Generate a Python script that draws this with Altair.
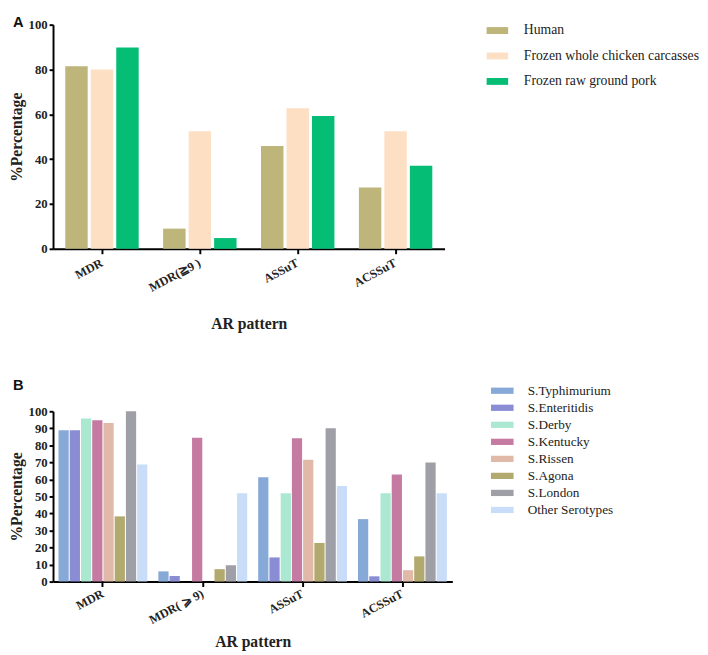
import altair as alt
import pandas as pd

# ---------------- Panel A data ----------------
patterns_a = ["MDR", "MDR(≧9 )", "ASSuT", "ACSSuT"]
sources = ["Human", "Frozen whole chicken carcasses", "Frozen raw ground pork"]
human = [81.5, 9.0, 45.9, 27.3]
chicken = [80.0, 52.5, 62.7, 52.5]
pork = [89.8, 4.8, 59.2, 37.1]
colors_a = ["#BDB57A", "#FDDFC3", "#06BD76"]

# ---------------- Panel B data ----------------
patterns_b = ["MDR", "MDR( ⩾ 9)", "ASSuT", "ACSSuT"]
serotypes = ["S.Typhimurium", "S.Enteritidis", "S.Derby", "S.Kentucky",
             "S.Rissen", "S.Agona", "S.London", "Other Serotypes"]
typhimurium = [88.8, 6.0, 61.2, 36.7]
enteritidis = [88.8, 3.3, 14.2, 3.1]
derby = [95.8, 0.0, 51.9, 51.9]
kentucky = [94.8, 84.4, 84.2, 62.9]
rissen = [93.1, 0.0, 71.5, 6.7]
agona = [38.3, 7.3, 22.7, 14.8]
london = [100.0, 9.6, 90.0, 70.0]
other = [68.7, 51.9, 56.2, 51.9]
colors_b = ["#87A9D7", "#8A8DD3", "#AAE8D2", "#C57BA1",
            "#E0B9A9", "#B2A96F", "#9F9FA7", "#C9DDF8"]

rows_a = []
for s, vals in zip(sources, [human, chicken, pork]):
    for p, v in zip(patterns_a, vals):
        rows_a.append({"pattern": p, "source": s, "value": v})
df_a = pd.DataFrame(rows_a)

rows_b = []
for s, vals in zip(serotypes, [typhimurium, enteritidis, derby, kentucky,
                               rissen, agona, london, other]):
    for p, v in zip(patterns_b, vals):
        rows_b.append({"pattern": p, "serotype": s, "value": v})
df_b = pd.DataFrame(rows_b)

SERIF = "Liberation Serif"

def x_axis(title_pad, label_pad):
    return alt.Axis(labelAngle=-28, labelAlign="right", labelBaseline="middle",
                    labelFont=SERIF, labelFontWeight="bold", labelFontSize=12.5,
                    labelColor="#222", labelPadding=label_pad,
                    title="AR pattern", titleFont=SERIF, titleFontWeight="bold",
                    titleFontSize=16, titleColor="#222", titlePadding=title_pad,
                    domainColor="#000", domainWidth=2, tickColor="#000",
                    tickWidth=2, tickSize=5, grid=False)

def y_axis(step):
    return alt.Axis(values=list(range(0, 101, step)), labelFont=SERIF,
                    labelFontWeight="bold", labelFontSize=13, labelColor="#222",
                    labelPadding=2,
                    title="%Percentage", titleFont=SERIF, titleFontWeight="bold",
                    titleFontSize=16, titleColor="#222", titlePadding=4,
                    domainColor="#000", domainWidth=2, tickColor="#000",
                    tickWidth=2, tickSize=4, grid=False)

rect_a = "M-1,-0.32L1,-0.32L1,0.32L-1,0.32Z"
rect_b = "M-1.44,-0.4L1.44,-0.4L1.44,0.4L-1.44,0.4Z"

bars_a = alt.Chart(df_a).mark_bar().encode(
    x=alt.X("pattern:N", sort=patterns_a,
            scale=alt.Scale(paddingInner=0.25, paddingOuter=0.125),
            axis=x_axis(22, 8)),
    xOffset=alt.XOffset("source:N", sort=sources,
                        scale=alt.Scale(domain=sources,
                                        paddingInner=0.12, paddingOuter=0)),
    y=alt.Y("value:Q", scale=alt.Scale(domain=[0, 100], nice=False),
            axis=y_axis(20)),
    color=alt.Color("source:N", sort=sources,
                    scale=alt.Scale(domain=sources, range=colors_a),
                    legend=alt.Legend(title=None, orient="none", legendX=443,
                                      legendY=-5, symbolType=rect_a,
                                      symbolSize=484, symbolStrokeWidth=0,
                                      symbolOpacity=1, labelLimit=400,
                                      labelFont=SERIF, labelFontSize=14,
                                      labelColor="#222", labelOffset=16,
                                      rowPadding=8, padding=0)),
)
label_a = alt.Chart(pd.DataFrame({"t": ["A"]})).mark_text(
    font="Liberation Sans", fontWeight="bold", fontSize=15, align="left",
    baseline="alphabetic", color="#111").encode(
    text="t:N", x=alt.value(-41), y=alt.value(2))
panel_a = alt.layer(bars_a, label_a).properties(width=400, height=229)

bars_b = alt.Chart(df_b).mark_bar().encode(
    x=alt.X("pattern:N", sort=patterns_b,
            scale=alt.Scale(paddingInner=0.11, paddingOuter=0.055),
            axis=x_axis(8, 6)),
    xOffset=alt.XOffset("serotype:N", sort=serotypes,
                        scale=alt.Scale(domain=serotypes,
                                        paddingInner=0.09, paddingOuter=0)),
    y=alt.Y("value:Q", scale=alt.Scale(domain=[0, 100], nice=False),
            axis=y_axis(10)),
    color=alt.Color("serotype:N", sort=serotypes,
                    scale=alt.Scale(domain=serotypes, range=colors_b),
                    legend=alt.Legend(title=None, orient="none", legendX=451,
                                      legendY=-29, symbolType=rect_b,
                                      symbolSize=256, symbolStrokeWidth=0,
                                      symbolOpacity=1, labelLimit=400,
                                      labelFont=SERIF, labelFontSize=13.5,
                                      labelColor="#222", labelOffset=18,
                                      rowPadding=2.4, padding=0)),
)
label_b = alt.Chart(pd.DataFrame({"t": ["B"]})).mark_text(
    font="Liberation Sans", fontWeight="bold", fontSize=15, align="left",
    baseline="alphabetic", color="#111").encode(
    text="t:N", x=alt.value(-41), y=alt.value(-22))
panel_b = alt.layer(bars_b, label_b).properties(width=408, height=174)

chart = alt.vconcat(panel_a, panel_b, spacing=47).resolve_scale(
    color="independent", x="independent", y="independent",
    xOffset="independent"
).properties(padding={"left": 0, "top": 0, "right": 0, "bottom": 0}
).configure_view(stroke=None)

chart.save("out.html", embed_options={"renderer": "svg", "actions": False})
